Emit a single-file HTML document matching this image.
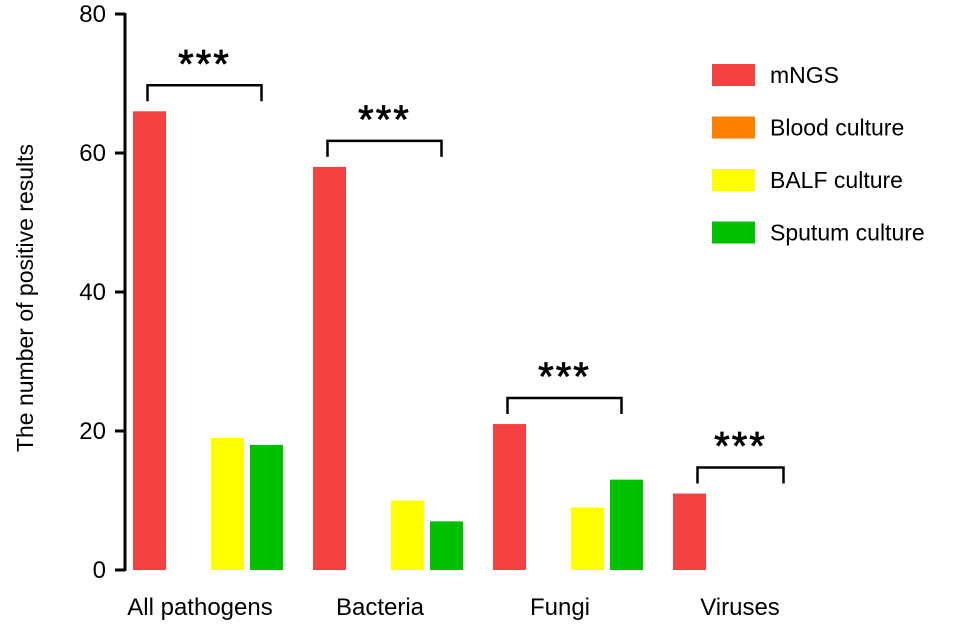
<!DOCTYPE html>
<html><head><meta charset="utf-8"><style>
body{margin:0;background:#fff;}
svg{display:block;font-family:"Liberation Sans",Arial,sans-serif;}
</style></head><body>
<svg id="chart" width="969" height="625"></svg>
<script>
const categories=["All pathogens","Bacteria","Fungi","Viruses"];
const seriesNames=["mNGS","Blood culture","BALF culture","Sputum culture"];
const mngs=[66,58,21,11];
const blood=[0,0,0,0];
const balf=[19,10,9,0];
const sputum=[18,7,13,0];
const yTicks=[0,20,40,60,80];
const sigLabels=["***","***","***","***"];
const colors=["#f44242","#ff7f00","#ffff00","#00c000"];
const series=[mngs,blood,balf,sputum];
const svg=document.getElementById('chart');
const NS="http://www.w3.org/2000/svg";
function y(v){return 570-v*(556/80);}
function gx(i){return 133+i*180;}
function bx(i,s){return gx(i)+s*39;}
const bw=33;
function mk(tag,attrs,parent){const e=document.createElementNS(NS,tag);for(const k in attrs)e.setAttribute(k,attrs[k]);(parent||svg).appendChild(e);return e;}
let ax=mk('line',{x1:125,y1:y(80)-1,x2:125,y2:571,stroke:'#000','stroke-width':3});


yTicks.forEach(t=>{
 const l=mk('line',{x1:115,x2:125,y1:y(t),y2:y(t),stroke:'#000','stroke-width':3});
 
 
 const tx=mk('text',{x:106,y:y(t)+8,'text-anchor':'end','font-size':24});
 tx.textContent=t;
 
 
});
const yt=mk('text',{x:0,y:0,'text-anchor':'middle','font-size':23,transform:'translate(33,298) rotate(-90)'});
yt.textContent="The number of positive results";


categories.forEach((c,i)=>{
 series.forEach((s,si)=>{
  const v=s[i];
  const r=mk('rect',{x:bx(i,si),y:y(v),width:bw,height:570-y(v),fill:colors[si]});
  
  
 });
 const lab=mk('text',{x:gx(i)+67,y:615,'text-anchor':'middle','font-size':24});
 lab.textContent=c;
 
 
 const maxV=Math.max(mngs[i],blood[i],balf[i],sputum[i]);
 const top=y(maxV)-26;
 const x1=i<3?bx(i,0)+bw/2-2:bx(i,0)+bw/2+8, x2=i<3?bx(i,3)+bw/2-5:x1+86;
 const br=mk('path',{d:`M${x1},${top+16}V${top}H${x2}V${top+16}`,fill:'none',stroke:'#000','stroke-width':2.5});
 
 
 const st=mk('text',{x:(x1+x2)/2,y:top-8,'text-anchor':'middle','font-size':40,'letter-spacing':2,stroke:'#000','stroke-width':0.8});
 st.textContent=sigLabels[i];
 
 
});
seriesNames.forEach((n,si)=>{
 const ly=64+si*52.5;
 const r=mk('rect',{x:712,y:ly,width:43,height:22,fill:colors[si]});
 
 
 const t=mk('text',{x:770,y:ly+19,'font-size':23});
 t.textContent=n;
 
 
});
</script>
</body></html>
